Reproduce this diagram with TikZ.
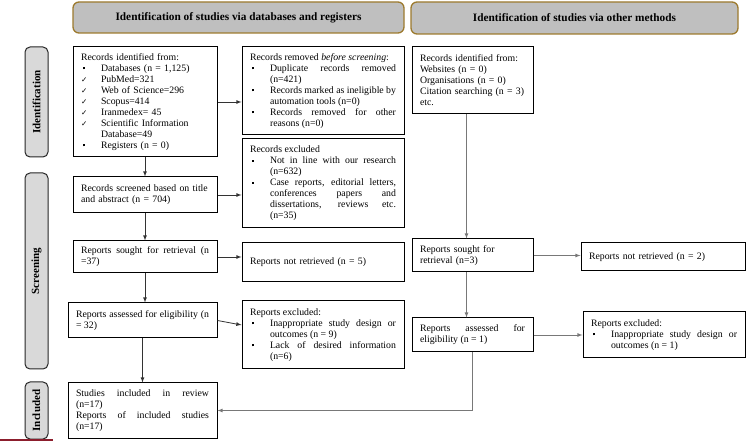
\documentclass[tikz,border=0pt]{standalone}
\usepackage{fontspec}
\setmainfont{Liberation Serif}
\newfontfamily\symfont{DejaVu Sans}
\usetikzlibrary{arrows}

\definecolor{hdrfill}{RGB}{191,191,191}
\definecolor{hdrline}{RGB}{156,122,46}
\definecolor{sidefill}{RGB}{217,217,217}
\definecolor{linkgray}{RGB}{120,120,120}
\definecolor{markred}{RGB}{140,30,45}

% list items with a hanging indent
\newcommand{\sqitem}{\par\noindent\hangindent=20pt\hangafter=1%
  \makebox[20pt][l]{\hspace{1.5pt}\raisebox{2pt}{\rule{2pt}{2pt}}}\ignorespaces}
\newcommand{\ckitem}{\par\noindent\hangindent=20pt\hangafter=1%
  \makebox[20pt][l]{{\symfont\fontsize{7.5}{7.5}\selectfont ✓}}\ignorespaces}

\hyphenpenalty=10000
\exhyphenpenalty=10000
\tolerance=10000

\begin{document}
\begin{tikzpicture}[>=latex,x=1pt,y=-1pt,line width=0.8pt]
    \tikzstyle{every node}=[font=\fontsize{9.8}{11}\selectfont\setlength{\parindent}{0pt}\setlength{\parskip}{0pt}]
    \tikzstyle{box}=[draw=black,line width=1pt,inner xsep=8pt,inner ysep=2pt,align=justify]
    \tikzstyle{hdr}=[draw=hdrline,fill=hdrfill,line width=1.3pt,rounded corners=6pt,
                     font=\fontsize{11.3}{13}\selectfont\bfseries]
    \tikzstyle{side}=[draw=black!85,fill=sidefill,line width=1pt,rounded corners=5pt,
                      rotate=90,font=\fontsize{11}{13}\selectfont\bfseries]
    \tikzstyle{darklink}=[->,color=black!80]
    \tikzstyle{graylink}=[->,color=linkgray]

    \useasboundingbox (0,0) rectangle (747,443);

    % headers and phases
    \node[hdr,minimum width=331pt,minimum height=31pt] (hdrDb)  at (238.5,17.5) {Identification of studies via databases and registers};
    \node[hdr,minimum width=327pt,minimum height=32pt] (hdrOth) at (574.5,18)   {Identification of studies via other methods};
    \node[side,minimum width=110pt,minimum height=23pt] (sideId)  at (36.5,102)   {Identification};
    \node[side,minimum width=196pt,minimum height=23pt] (sideScr) at (36.5,271)   {Screening};
    \node[side,minimum width=57pt,minimum height=23pt]  (sideInc) at (36.5,410.5) {Included};

    % databases and registers
    \node[box,align=left,text width=128pt,minimum height=110pt] (idA) at (145,102)
        {Records identified from:\sqitem Databases (n = 1,125)\ckitem PubMed=321\ckitem Web of Science=296%
         \ckitem Scopus=414\ckitem Iranmedex= 45\ckitem Scientific Information Database=49\sqitem Registers (n = 0)\par};
    \node[box,text width=146pt,minimum height=88pt] (remB) at (323,91)
        {Records removed \textit{before screening}:\sqitem Duplicate records removed (n=421)%
         \sqitem Records marked as ineligible by automation tools (n=0)\sqitem Records removed for other reasons (n=0)\par};
    \node[box,align=left,text width=128pt,minimum height=36pt] (scr) at (145,195)
        {Records screened based on title\\ and abstract (n = 704)};
    \node[box,text width=146pt,minimum height=89pt] (exclR) at (323,183.5)
        {Records excluded\sqitem Not in line with our research (n=632)%
         \sqitem Case reports, editorial letters, conferences papers and dissertations, reviews etc. (n=35)\par};
    \node[box,text width=128pt,minimum height=32pt] (sgt) at (145,257)
        {Reports sought for retrieval (n =37)\par};
    \node[box,align=left,text width=146pt,minimum height=39pt] (nret) at (323,262.5)
        {Reports not retrieved (n = 5)};
    \node[box,text width=133pt,minimum height=35pt] (ass) at (142.5,320.5)
        {Reports assessed for eligibility (n = 32)\par};
    \node[box,text width=146pt,minimum height=68pt] (exclA) at (323,335)
        {Reports excluded:\sqitem Inappropriate study design or outcomes (n = 9)\sqitem Lack of desired information (n=6)\par};
    \node[box,text width=133pt,minimum height=55pt] (inc) at (142.5,410.5)
        {Studies included in review\linebreak (n=17)\par Reports of included studies\linebreak (n=17)\par};

    % other methods
    \node[box,align=left,text width=105pt,minimum height=67pt] (idB) at (472.5,80.5)
        {Records identified from:\\ Websites (n = 0)\\ Organisations (n = 0)\\ Citation searching (n = 3)\\ etc.};
    \node[box,align=left,text width=105pt,minimum height=33pt] (sgt2) at (472.5,255.5)
        {Reports sought for\\ retrieval (n=3)};
    \node[box,align=left,text width=148pt,minimum height=28pt] (nret2) at (663,257)
        {Reports not retrieved (n = 2)};
    \node[box,text width=105pt,minimum height=34pt] (ass2) at (472.5,335)
        {Reports assessed for eligibility (n = 1)\par};
    \node[box,text width=146pt,minimum height=46pt] (exclB) at (664,335)
        {Reports excluded:\sqitem Inappropriate study design or outcomes (n = 1)\par};

    \path[darklink]
            (idA.east)  edge (idA.east -| remB.west)
            (idA.south) edge (scr.north)
            (scr.east)  edge (scr.east -| exclR.west)
            (scr.south) edge (scr.south |- sgt.north)
            (sgt.east)  edge (sgt.east -| nret.west)
            (sgt.south) edge (sgt.south |- ass.north)
            (ass.east)  edge ([yshift=10pt]exclA.west)
            (ass.south) edge (inc.north);

    \path[graylink]
            ([xshift=-6pt]idB.south)  edge ([xshift=-6pt]sgt2.north)
            (sgt2.east)               edge (sgt2.east -| nret2.west)
            ([xshift=-6pt]sgt2.south) edge ([xshift=-6pt]ass2.north)
            (ass2.east)               edge (ass2.east -| exclB.west);
    \draw[graylink] (ass2.south) |- (inc.east);

    \draw[markred,line width=1.2pt] (0,440) -- (53,440);
\end{tikzpicture}
\end{document}
